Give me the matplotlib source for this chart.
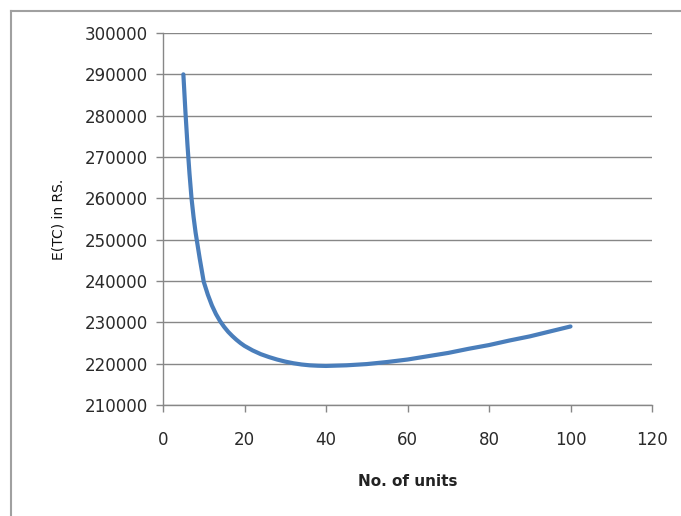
import matplotlib
matplotlib.use("Agg")
import matplotlib.pyplot as plt
from matplotlib.lines import Line2D

plt.rcParams["font.family"] = ["DejaVu Sans"]

units = [5, 5.5, 6, 6.5, 7, 7.5, 8, 9, 10, 11, 12, 13, 14, 15, 16, 17, 18, 19,
         20, 22, 24, 26, 28, 30, 32, 34, 36, 38, 40, 45, 50, 55,
         60, 65, 70, 75, 80, 85, 90, 95, 100]
cost = [290000, 281000, 273000, 266000, 260000, 255500, 251700, 245500,
        239800, 236700, 234100, 232000, 230300, 228900, 227700, 226700,
        225800, 225000, 224300, 223200, 222300, 221600, 221000, 220500,
        220100, 219800, 219600, 219500, 219450, 219600, 219900, 220400,
        221000, 221800, 222600, 223600, 224500, 225600, 226600, 227800,
        229000]
x_ticks = [0, 20, 40, 60, 80, 100, 120]
y_ticks = list(range(210000, 300001, 10000))

W, H = 681, 516
fig = plt.figure(figsize=(W / 100, H / 100), dpi=100)
ax = fig.add_axes([163 / W, 1 - 405 / H, (652 - 163) / W, (405 - 33) / H])

grey = "#878787"
ax.plot(units, cost, color="#4A7EBB", lw=3.0, solid_capstyle="round",
        solid_joinstyle="round", zorder=3)
ax.set_xlim(0, 120)
ax.set_ylim(210000, 300000)
ax.set_xticks(x_ticks)
ax.set_yticks(y_ticks)
ax.set_yticklabels([str(v) for v in y_ticks])
ax.grid(axis="y", color=grey, lw=1.0)
ax.set_axisbelow(True)
for s in ["top", "right"]:
    ax.spines[s].set_visible(False)
for s in ["left", "bottom"]:
    ax.spines[s].set_color(grey)
    ax.spines[s].set_linewidth(1.0)
ax.tick_params(axis="both", direction="out", length=5, width=1.0, color=grey,
               labelsize=12, labelcolor="#2a2a2a")
ax.tick_params(axis="y", pad=6)
ax.tick_params(axis="x", pad=14)

ax.set_ylabel("E(TC) in RS.", fontsize=10, color="#111111", labelpad=14)
ax.set_xlabel("No. of units", fontsize=11, fontweight="bold", color="#222222", labelpad=18)

# chart frame (left and top edges visible)
fig.add_artist(Line2D([11 / W, 11 / W], [0, 1 - 11 / H], transform=fig.transFigure,
                      color="#a0a0a0", lw=1.5))
fig.add_artist(Line2D([11 / W, 1], [1 - 11 / H, 1 - 11 / H], transform=fig.transFigure,
                      color="#a0a0a0", lw=1.5))

fig.savefig("out.png", dpi=100, facecolor="white")
